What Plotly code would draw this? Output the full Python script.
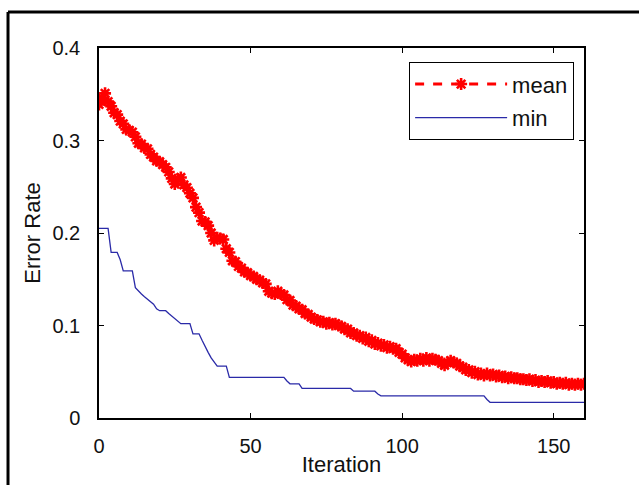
import numpy as np
import plotly.graph_objects as go

# Iteration index
iterations = list(range(0, 161))

# Mean error rate of the population at each iteration
mean_error = [
    0.339, 0.346, 0.351, 0.342, 0.337, 0.330, 0.328, 0.321, 0.318, 0.312,
    0.311, 0.309, 0.304, 0.297, 0.296, 0.292, 0.291, 0.285, 0.282, 0.278,
    0.277, 0.274, 0.271, 0.266, 0.259, 0.253, 0.258, 0.260, 0.252, 0.249,
    0.243, 0.238, 0.228, 0.222, 0.213, 0.212, 0.208, 0.200, 0.192, 0.195,
    0.194, 0.193, 0.183, 0.179, 0.170, 0.169, 0.164, 0.162, 0.158, 0.157,
    0.154, 0.153, 0.150, 0.149, 0.146, 0.145, 0.137, 0.135, 0.134, 0.137,
    0.134, 0.133, 0.128, 0.127, 0.122, 0.121, 0.118, 0.117, 0.113, 0.112,
    0.109, 0.107, 0.106, 0.104, 0.104, 0.102, 0.103, 0.101, 0.102, 0.100,
    0.099, 0.096, 0.096, 0.092, 0.092, 0.089, 0.089, 0.086, 0.087, 0.083,
    0.084, 0.080, 0.081, 0.078, 0.079, 0.076, 0.077, 0.075, 0.075, 0.071,
    0.069, 0.065, 0.063, 0.061, 0.063, 0.062, 0.064, 0.062, 0.065, 0.062,
    0.064, 0.063, 0.062, 0.059, 0.057, 0.060, 0.062, 0.060, 0.059, 0.056,
    0.055, 0.052, 0.052, 0.049, 0.050, 0.047, 0.048, 0.046, 0.048, 0.046,
    0.047, 0.045, 0.046, 0.044, 0.045, 0.043, 0.044, 0.043, 0.043, 0.042,
    0.042, 0.041, 0.042, 0.040, 0.041, 0.039, 0.040, 0.039, 0.040, 0.038,
    0.039, 0.037, 0.038, 0.037, 0.038, 0.036, 0.037, 0.036, 0.037, 0.036,
    0.037,
]

# Best (minimum) error rate, stored as runs of equal values
min_values = [
    0.205, 0.179, 0.171, 0.159, 0.141, 0.137, 0.134, 0.131, 0.128, 0.125,
    0.123, 0.118, 0.116, 0.113, 0.110, 0.107, 0.104, 0.102, 0.091, 0.084,
    0.077, 0.071, 0.065, 0.060, 0.056, 0.044, 0.040, 0.037, 0.032, 0.029,
    0.026, 0.024, 0.020, 0.017,
]
min_counts = [
    4, 3, 1, 4, 1, 1, 1, 1, 1, 1,
    1, 1, 3, 1, 1, 1, 1, 4, 3, 1,
    1, 1, 1, 1, 4, 19, 1, 4, 17, 8,
    1, 35, 1, 32,
]
min_error = np.repeat(min_values, min_counts)

x_ticks = [0, 50, 100, 150]
y_ticks = [0, 0.1, 0.2, 0.3, 0.4]
y_tick_text = ["0", "0.1", "0.2", "0.3", "0.4"]

FONT = "Liberation Sans, Arial, sans-serif"

fig = go.Figure()
fig.add_trace(go.Scatter(
    x=iterations, y=mean_error, name="mean",
    mode="lines+markers",
    line=dict(color="#ff0000", width=3, dash="dash"),
    marker=dict(symbol="asterisk-open", size=10, color="#ff0000",
                line=dict(color="#ff0000", width=2.6)),
    legendgroup="a",
))
fig.add_trace(go.Scatter(
    x=iterations, y=min_error, name="min",
    mode="lines",
    line=dict(color="#2a2aa8", width=1.3),
    legendgroup="b",
))

axis_common = dict(
    showgrid=False, zeroline=False, automargin=False,
    showline=True, linecolor="black", linewidth=1.5,
    mirror="allticks", ticks="inside", ticklen=5, tickwidth=1.2,
    tickcolor="black",
    tickfont=dict(family=FONT, size=20, color="#111111"),
)

fig.update_xaxes(
    range=[0, 160], tickvals=x_ticks, ticklabelstandoff=9,
    title=dict(text="Iteration", font=dict(family=FONT, size=22, color="#111111"),
               standoff=1),
    **axis_common,
)
fig.update_yaxes(
    range=[0, 0.4], tickvals=y_ticks, ticktext=y_tick_text,
    ticklabelstandoff=13,
    title=dict(text="Error Rate", font=dict(family=FONT, size=22, color="#111111"),
               standoff=6),
    **axis_common,
)

# Frame lines along the top and left edges of the figure
fig.add_shape(type="line", xref="paper", yref="paper",
              x0=-0.1876, x1=1.2, y0=1.0973, y1=1.0973,
              line=dict(color="black", width=3))
fig.add_shape(type="line", xref="paper", yref="paper",
              x0=-0.1876, x1=-0.1876, y0=1.0973, y1=-0.2,
              line=dict(color="black", width=3))

fig.update_layout(
    width=639, height=485,
    margin=dict(l=99, r=55, t=48, b=67),
    paper_bgcolor="white", plot_bgcolor="white",
    showlegend=True,
    legend=dict(
        x=0.639, y=0.962, xanchor="left", yanchor="top",
        bgcolor="white", bordercolor="black", borderwidth=1.2,
        font=dict(family=FONT, size=22, color="#111111"),
        itemwidth=92, tracegroupgap=2, traceorder="grouped",
    ),
)

fig.write_html("out.html")
